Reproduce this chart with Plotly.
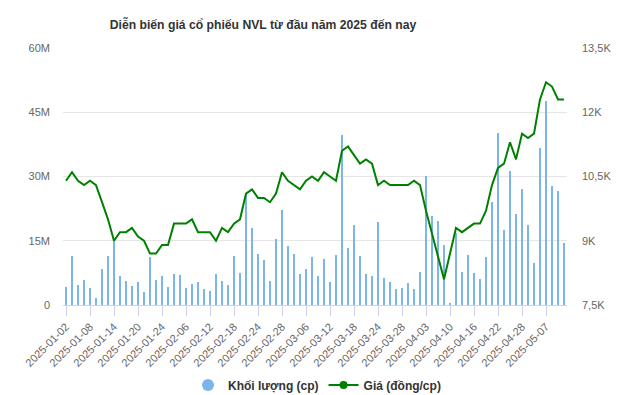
import plotly.graph_objects as go

dates = [
    "2025-01-02","2025-01-03","2025-01-06","2025-01-07","2025-01-08","2025-01-09","2025-01-10",
    "2025-01-13","2025-01-14","2025-01-15","2025-01-16","2025-01-17","2025-01-20","2025-01-21",
    "2025-01-22","2025-01-23","2025-01-24",
    "2025-02-03","2025-02-04","2025-02-05","2025-02-06","2025-02-07","2025-02-10","2025-02-11",
    "2025-02-12","2025-02-13","2025-02-14","2025-02-17","2025-02-18","2025-02-19","2025-02-20",
    "2025-02-21","2025-02-24","2025-02-25","2025-02-26","2025-02-27","2025-02-28",
    "2025-03-03","2025-03-04","2025-03-05","2025-03-06","2025-03-07","2025-03-10","2025-03-11",
    "2025-03-12","2025-03-13","2025-03-14","2025-03-17","2025-03-18","2025-03-19","2025-03-20",
    "2025-03-21","2025-03-24","2025-03-25","2025-03-26","2025-03-27","2025-03-28","2025-03-31",
    "2025-04-01","2025-04-02","2025-04-03","2025-04-04","2025-04-08","2025-04-09","2025-04-10",
    "2025-04-11","2025-04-14","2025-04-15","2025-04-16","2025-04-17","2025-04-18","2025-04-21",
    "2025-04-22","2025-04-23","2025-04-24","2025-04-25","2025-04-28","2025-04-29",
    "2025-05-05","2025-05-06","2025-05-07","2025-05-08","2025-05-09","2025-05-12",
]

# Volume in millions of shares
volume_m = [
    4.2, 11.4, 4.7, 5.8, 4.0, 1.7, 8.4, 11.4, 15.2, 6.8,
    5.6, 4.4, 5.4, 3.0, 11.2, 5.8, 6.8, 4.2, 7.2, 7.0,
    4.0, 4.9, 5.4, 3.7, 3.3, 7.2, 5.6, 4.7, 11.4, 7.5,
    25.9, 18.0, 11.9, 10.5, 5.6, 15.4, 22.2, 13.8, 11.9, 7.2,
    8.4, 11.2, 6.8, 10.7, 5.4, 11.7, 39.7, 13.3, 18.7, 11.4,
    7.2, 6.8, 19.4, 6.3, 5.4, 3.7, 4.0, 5.1, 3.7, 7.7,
    30.1, 20.8, 19.6, 14.0, 0.5, 16.9, 7.7, 11.7, 7.5, 6.1,
    11.2, 24.0, 40.2, 17.5, 31.3, 21.2, 27.1, 18.7, 9.8, 36.7,
    47.6, 27.8, 26.6, 14.5,
]

# Price in dong
price = [
    10400, 10600, 10400, 10300, 10400, 10300, 9900, 9500, 9000, 9200,
    9200, 9300, 9100, 9000, 8700, 8700, 8900, 8900, 9400, 9400,
    9400, 9500, 9200, 9200, 9200, 9000, 9300, 9200, 9400, 9500,
    10100, 10200, 10000, 10000, 9900, 10100, 10600, 10400, 10300, 10200,
    10400, 10500, 10400, 10600, 10500, 10400, 11100, 11200, 11000, 10800,
    10900, 10800, 10300, 10400, 10300, 10300, 10300, 10300, 10400, 10300,
    9700, 9150, 8600, 8100, 8700, 9300, 9200, 9300, 9400, 9400,
    9700, 10300, 10700, 10800, 11300, 10900, 11500, 11400, 11500, 12300,
    12700, 12600, 12300, 12300,
]

left_tickvals = [0, 15e6, 30e6, 45e6, 60e6]
left_ticktext = ["0", "15M", "30M", "45M", "60M"]
right_tickvals = [7500, 9000, 10500, 12000, 13500]
right_ticktext = ["7,5K", "9K", "10,5K", "12K", "13,5K"]

title_text = "Diễn biến giá cổ phiếu NVL từ đầu năm 2025 đến nay"
vol_name = "Khối lượng (cp)"
price_name = "Giá (đồng/cp)"

FONT = "Liberation Sans, Arial, sans-serif"
BAR_COLOR = "#7cb5ec"
LINE_COLOR = "#008000"

volume = [v * 1e6 for v in volume_m]
x_tickvals = dates[::4]

fig = go.Figure()
fig.add_trace(go.Bar(
    x=dates, y=volume, marker=dict(color=BAR_COLOR, line=dict(width=0)),
    width=0.38, name=vol_name, showlegend=False, yaxis="y",
))
fig.add_trace(go.Scatter(
    x=dates, y=price, mode="lines", line=dict(color=LINE_COLOR, width=2),
    name=price_name, showlegend=False, yaxis="y2",
))
# legend-only entries
fig.add_trace(go.Scatter(
    x=[None], y=[None], mode="markers", name=vol_name,
    marker=dict(color=BAR_COLOR, size=12, symbol="circle"), yaxis="y",
))
fig.add_trace(go.Scatter(
    x=[None], y=[None], mode="lines+markers", name=price_name,
    line=dict(color=LINE_COLOR, width=2), marker=dict(color=LINE_COLOR, size=8),
    yaxis="y2",
))

fig.update_layout(
    width=635, height=395,
    margin=dict(l=63, r=68, t=48, b=90, pad=0, autoexpand=False),
    paper_bgcolor="white", plot_bgcolor="white",
    font=dict(family=FONT, size=11, color="#666666"),
    title=dict(text="<b>" + title_text + "</b>", x=263 / 635, xanchor="center",
               y=1 - 25 / 395, yanchor="middle",
               font=dict(family=FONT, size=12.2, color="#333333")),
    bargap=0,
    showlegend=True,
    legend=dict(orientation="h", x=317 / 635, xanchor="center", xref="container",
                y=1 - 385 / 395, yanchor="middle", yref="container",
                font=dict(family=FONT, size=12, color="#333333", weight="bold"),
                itemwidth=30, tracegroupgap=0, bgcolor="rgba(0,0,0,0)"),
    xaxis=dict(
        type="category", categoryorder="array", categoryarray=dates,
        range=[-0.5, len(dates) - 0.5], automargin=False,
        tickmode="array", tickvals=x_tickvals, ticktext=x_tickvals,
        tickangle=-45, ticks="outside", ticklen=10, tickcolor="#ccd6eb",
        showline=True, linecolor="#ccd6eb", linewidth=1,
        showgrid=False, zeroline=False,
        tickfont=dict(family=FONT, size=11, color="#666666"),
    ),
    yaxis=dict(
        range=[0, 60e6], tickmode="array", tickvals=left_tickvals, ticktext=left_ticktext,
        showgrid=True, gridcolor="#e6e6e6", gridwidth=1, zeroline=False, automargin=False,
        showline=False, ticks="", ticklabelstandoff=12,
        tickfont=dict(family=FONT, size=11, color="#666666"),
    ),
    yaxis2=dict(
        range=[7500, 13500], overlaying="y", side="right", automargin=False,
        tickmode="array", tickvals=right_tickvals, ticktext=right_ticktext,
        showgrid=False, zeroline=False, showline=False, ticks="",
        ticklabelstandoff=14,
        tickfont=dict(family=FONT, size=11, color="#666666"),
    ),
)

fig.write_html("out.html")
